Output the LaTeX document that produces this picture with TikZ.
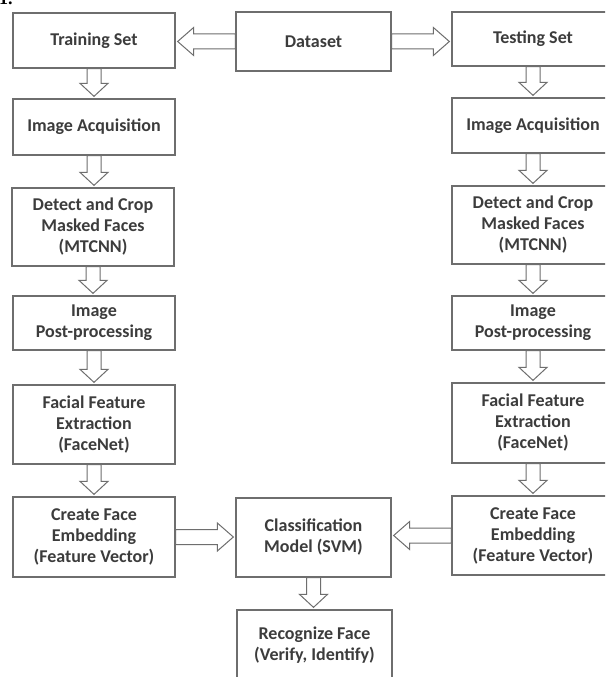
\documentclass[tikz,border=0pt]{standalone}
\usepackage{fontspec}
\setmainfont{Carlito}
\usetikzlibrary{calc}
\definecolor{boxgray}{HTML}{6E6E6E}
\definecolor{txtgray}{HTML}{3C3C3C}
\tikzset{
  box/.style={draw=boxgray, line width=1.3pt, fill=white, align=center,
    inner sep=0pt, text=txtgray,
    font=\fontsize{18}{21}\selectfont\bfseries},
  lbox/.style={box, minimum width=162},
  cbox/.style={box, minimum width=155},
  blk/.style={draw=boxgray, line width=1pt, fill=white, line join=miter}
}
\newcommand{\blkdown}[2]{%
  \draw[blk] let \p1=(#1.south), \p2=(#2.north) in
    (\x1-7pt,\y1) -- (\x1+7pt,\y1) -- (\x1+7pt,\y2+15pt) -- (\x1+14pt,\y2+15pt)
    -- (\x1,\y2+2pt) -- (\x1-14pt,\y2+15pt) -- (\x1-7pt,\y2+15pt) -- cycle;}
\newcommand{\blkleft}[2]{%
  \draw[blk] let \p1=(#1.west), \p2=(#2.east) in
    (\x1,\y1+7.5pt) -- (\x2+18pt,\y1+7.5pt) -- (\x2+18pt,\y1+14pt) -- (\x2+2pt,\y1)
    -- (\x2+18pt,\y1-14pt) -- (\x2+18pt,\y1-7.5pt) -- (\x1,\y1-7.5pt) -- cycle;}
\newcommand{\blkright}[2]{%
  \draw[blk] let \p1=(#1.east), \p2=(#2.west) in
    (\x1,\y1+7.5pt) -- (\x2-18pt,\y1+7.5pt) -- (\x2-18pt,\y1+14pt) -- (\x2-2pt,\y1)
    -- (\x2-18pt,\y1-14pt) -- (\x2-18pt,\y1-7.5pt) -- (\x1,\y1-7.5pt) -- cycle;}
\begin{document}
\begin{tikzpicture}[x=1pt,y=-1pt]
\useasboundingbox (0,0) rectangle (605,677);
\clip (0,0) rectangle (605,677);
\fill[white] (0,0) rectangle (605,677);
\node[anchor=base west, inner sep=0pt, font=\fontsize{18}{18}\selectfont\bfseries\rmfamily] (fig) at (-1,5) {\fontspec{Liberation Serif}1.};
% left column
\node[lbox, minimum height=55] (train) at (94,40.5) {Training Set};
\node[lbox, minimum height=56] (acqL) at (94,127) {Image Acquisition};
\node[lbox, minimum height=78] (detL) at (93,227) {Detect and Crop\\Masked Faces\\(MTCNN)};
\node[lbox, minimum height=54] (postL) at (94,323) {Image\\Post-processing};
\node[lbox, minimum height=79] (featL) at (94,424.5) {Facial Feature\\Extraction\\(FaceNet)};
\node[lbox, minimum height=80] (embL) at (94,537) {Create Face\\Embedding\\(Feature Vector)};
% centre column
\node[cbox, minimum height=59] (data) at (313.5,41.5) {Dataset};
\node[cbox, minimum height=79] (cls) at (313.5,537.5) {Classification\\Model (SVM)};
\node[cbox, minimum height=70] (rec) at (314.5,645) {Recognize Face\\(Verify, Identify)};
% right column
\node[lbox, minimum height=54] (test) at (533,39) {Testing Set};
\node[lbox, minimum height=55] (acqR) at (533,125.5) {Image Acquisition};
\node[lbox, minimum height=78] (detR) at (533,225) {Detect and Crop\\Masked Faces\\(MTCNN)};
\node[lbox, minimum height=54] (postR) at (533,323) {Image\\Post-processing};
\node[lbox, minimum height=80] (featR) at (533,423) {Facial Feature\\Extraction\\(FaceNet)};
\node[lbox, minimum height=79] (embR) at (533,535.5) {Create Face\\Embedding\\(Feature Vector)};
% arrows
\blkleft{data}{train}
\blkright{data}{test}
\blkdown{train}{acqL}
\blkdown{acqL}{detL}
\blkdown{detL}{postL}
\blkdown{postL}{featL}
\blkdown{featL}{embL}
\blkdown{test}{acqR}
\blkdown{acqR}{detR}
\blkdown{detR}{postR}
\blkdown{postR}{featR}
\blkdown{featR}{embR}
\blkright{embL}{cls}
\blkleft{embR}{cls}
\blkdown{cls}{rec}
\end{tikzpicture}
\end{document}
